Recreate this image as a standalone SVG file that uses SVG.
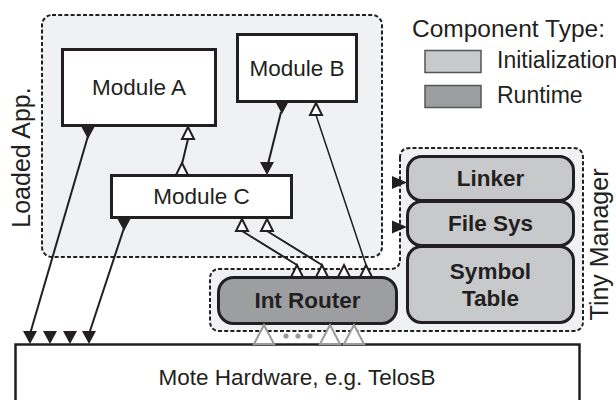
<svg xmlns="http://www.w3.org/2000/svg" width="616" height="400" viewBox="0 0 616 400">
<style>
.cont{fill:#f0f1f3;stroke:#231f20;stroke-width:2;stroke-dasharray:4 2.2}
.mod{fill:#fff;stroke:#231f20;stroke-width:3}
.init{fill:#c8c9cb;stroke:#231f20;stroke-width:3}
.run{fill:#9d9ea0;stroke:#231f20;stroke-width:3}
.lab{font-family:"Liberation Sans",Arial,sans-serif;font-size:22.5px;fill:#231f20;text-anchor:middle}
.bold{font-weight:bold}
.side{font-family:"Liberation Sans",Arial,sans-serif;font-size:25px;fill:#231f20;text-anchor:middle}
.leg{font-family:"Liberation Sans",Arial,sans-serif;font-size:23px;fill:#231f20}
.ln{fill:none;stroke:#231f20;stroke-width:2}
.thin{fill:none;stroke:#231f20;stroke-width:1.5}
</style>
<defs>
<path id="fdown" d="M-7,0 H7 L0,13 Z" fill="#231f20"/>
<path id="oup" d="M0,0 L6,12 H-6 Z" fill="#fff" stroke="#231f20" stroke-width="2" stroke-linejoin="miter"/>
<path id="fright" d="M0,0 L-15,-6.5 V6.5 Z" fill="#231f20"/>
<path id="gup" d="M0,0 L10,19 H-10 Z" fill="#fff" stroke="#9a9a9a" stroke-width="2"/>
</defs>

<g id="loaded-app">
<rect class="cont" x="42" y="15" width="340" height="242" rx="10"/>
<text class="side" transform="translate(30,157.5) rotate(-90)">Loaded App.</text>
</g>

<g id="tiny-manager">
<path class="cont" d="M400,158 Q400,148 410,148 H573 Q583,148 583,158 V321 Q583,331 573,331 H220 Q210,331 210,321 V279 Q210,269 220,269 H390 Q400,269 400,259 Z"/>
<text class="side" transform="translate(608,244.5) rotate(-90)">Tiny Manager</text>
</g>

<g id="legend">
<text class="leg" x="412" y="37" style="font-size:24.5px">Component Type:</text>
<rect x="425" y="50.5" width="56" height="22" fill="#c8c9cb" stroke="#555" stroke-width="1.5"/>
<text class="leg" x="497" y="68">Initialization</text>
<rect x="425" y="85.5" width="56" height="22" fill="#9d9ea0" stroke="#555" stroke-width="1.5"/>
<text class="leg" x="497" y="103">Runtime</text>
</g>

<g id="module-a">
<rect class="mod" x="62.5" y="49.5" width="153" height="76"/>
<text class="lab" x="139" y="95">Module A</text>
</g>
<g id="module-b">
<rect class="mod" x="237.5" y="34.5" width="119" height="67"/>
<text class="lab" x="297" y="75.5">Module B</text>
</g>
<g id="module-c">
<rect class="mod" x="111.5" y="175.5" width="180" height="42"/>
<text class="lab" x="201.5" y="204">Module C</text>
</g>

<g id="linker">
<rect class="init" x="407.5" y="156.5" width="166" height="44" rx="14"/>
<text class="lab bold" x="490.5" y="185.5">Linker</text>
</g>
<g id="file-sys">
<rect class="init" x="407.5" y="201.5" width="166" height="44" rx="14"/>
<text class="lab bold" x="490.5" y="230.5">File Sys</text>
</g>
<g id="symbol-table">
<rect class="init" x="407.5" y="246.5" width="166" height="76" rx="14"/>
<text class="lab bold" x="490.5" y="278.5">Symbol</text>
<text class="lab bold" x="490.5" y="305.5">Table</text>
</g>
<g id="int-router">
<rect class="run" x="218.5" y="277.5" width="178" height="46" rx="15"/>
<text class="lab bold" x="307.5" y="308">Int Router</text>
</g>

<g id="mote-hardware">
<rect x="15.5" y="344.5" width="564" height="70" fill="#fff" stroke="#231f20" stroke-width="2.5"/>
<text class="lab" x="297" y="385">Mote Hardware, e.g. TelosB</text>
</g>

<g id="connectors">
<use href="#fdown" x="88" y="126"/>
<line class="ln" x1="88" y1="136" x2="30" y2="334"/>
<use href="#fdown" x="124" y="218"/>
<line class="ln" x1="124" y1="228" x2="89" y2="334"/>
<use href="#fdown" x="30" y="331"/>
<use href="#fdown" x="50" y="331"/>
<use href="#fdown" x="70" y="331"/>
<use href="#fdown" x="89" y="331"/>
<use href="#fdown" x="282" y="101"/>
<line class="ln" x1="281" y1="112" x2="268" y2="164"/>
<use href="#fdown" x="267" y="162"/>
<use href="#oup" x="182" y="163"/>
<line class="ln" x1="182" y1="164" x2="188" y2="139"/>
<use href="#oup" x="188" y="127"/>
<use href="#oup" x="242" y="219"/>
<use href="#oup" x="267" y="219"/>
<line class="ln" x1="242" y1="231" x2="297" y2="265"/>
<line class="ln" x1="267" y1="231" x2="322" y2="265"/>
<use href="#oup" x="316" y="103"/>
<line class="thin" x1="316" y1="115" x2="366" y2="265"/>
<use href="#oup" x="297" y="265"/>
<use href="#oup" x="322" y="265"/>
<use href="#oup" x="344" y="265"/>
<use href="#oup" x="366" y="265"/>
<use href="#fright" x="407" y="182.5"/>
<use href="#fright" x="407" y="227"/>
<use href="#gup" x="264" y="325"/>
<use href="#gup" x="330" y="325"/>
<use href="#gup" x="354" y="325"/>
<circle cx="286" cy="336" r="2.6" fill="#9a9a9a"/>
<circle cx="298" cy="336" r="2.6" fill="#9a9a9a"/>
<circle cx="310" cy="336" r="2.6" fill="#9a9a9a"/>
</g>
</svg>
